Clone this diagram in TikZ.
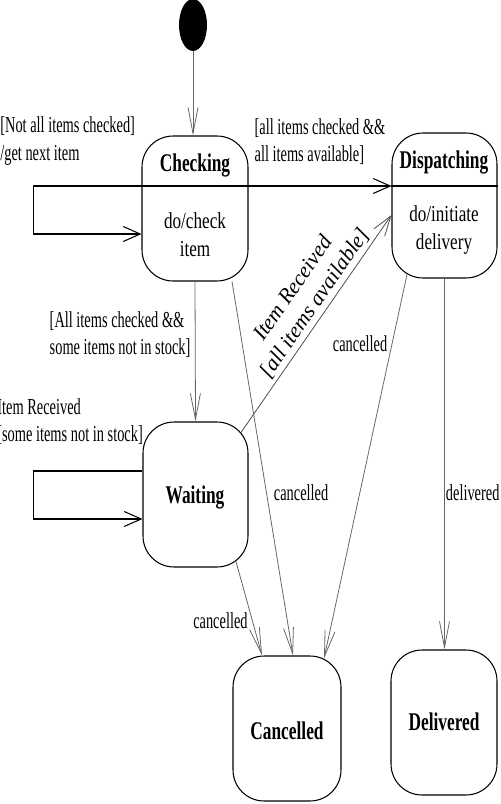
\documentclass[tikz,border=0pt]{standalone}
\usepackage{fontspec}
\setmainfont{Liberation Serif}
\newfontfamily\lblfont[FakeStretch=0.63]{Liberation Serif}
\newfontfamily\actfont[FakeStretch=0.75]{Liberation Serif}
\newfontfamily\namefont[FakeStretch=0.68]{Liberation Serif}
\usetikzlibrary{arrows.meta, positioning, calc, shapes.geometric}

\begin{document}
\begin{tikzpicture}[
  x=0.02cm, y=-0.02cm,
  every node/.style={font=\lblfont\fontsize{13}{15.5}\selectfont},
  state/.style={draw, rounded corners=0.62cm, minimum width=2.12cm,
                minimum height=2.9cm, line width=0.6pt},
  sname/.style={font=\namefont\fontsize{14.5}{16}\selectfont\bfseries},
  sact/.style={font=\actfont\fontsize{13}{16}\selectfont, align=center},
  guard/.style={align=left, inner sep=0pt},
  tr/.style={draw=black!60, line width=0.45pt,
             -{Straight Barb[length=0.52cm, width=0.2cm]}},
  trd/.style={draw=black!70, line width=0.45pt,
              -{Straight Barb[length=0.4cm, width=0.26cm]}},
  trh/.style={draw=black, line width=0.6pt,
              -{Straight Barb[length=0.34cm, width=0.3cm]}},
]
  \useasboundingbox (0,0) rectangle (500,804);

  % states
  \node[ellipse, fill=black, minimum width=0.56cm, minimum height=1.04cm,
        inner sep=0pt] (init) at (193,25) {};
  \node[state] (chk) at (195,208.5) {};
  \node[state, minimum width=2.1cm] (disp) at (444.5,205.5) {};
  \node[state, minimum width=2.1cm] (wait) at (195.5,494.5) {};
  \node[state, minimum width=2.16cm] (canc) at (287,728.5) {};
  \node[state] (deliv) at (444,722.5) {};
  \coordinate (div) at (0,186);

  \node[sname] (chkname) at (195,165) {Checking};
  \node[sact] (chkdo) at (195,235) {do/check\\item};
  \node[sname] (dispname) at (444,162) {Dispatching};
  \node[sact] (dispdo) at (444,230) {do/initiate\\delivery};
  \node[sname] (waitname) at (195,497) {Waiting};
  \node[sname] (cancname) at (287,731) {Cancelled};
  \node[sname] (delivname) at (444,722) {Delivered};

  % compartments
  \draw[line width=0.6pt] (chk.west |- div) -- (chk.east |- div);
  \draw[line width=0.6pt] (disp.west |- div) -- (disp.east |- div);

  % transitions
  \draw[tr] (init.south) -- (init |- chk.north);
  \draw[trh] (chk.west |- div) -- ++(-108,0) |- ($(chk.west)+(0,25.5)$);
  \node[guard, anchor=west] (chkloop) at (0,141)
    {[Not all items checked]\\/get next item};
  \draw[trh] (chk.east |- div) --
    node[midway, above=12pt, align=left, inner sep=0pt] (chkdisp)
    {[all items checked \&\&\\all items available]} (disp.west |- div);
  \draw[tr] (chk.south) --
    node[pos=0.38, left, align=left, inner sep=2.5pt] (chkwait)
    {[All items checked \&\&\\some items not in stock]} (wait.north);
  \draw[trh] ($(wait.west)+(0,-23.5)$) -- ++(-109,0) |- ($(wait.west)+(0,24.5)$);
  \node[guard, anchor=west] (waitloop) at (-3,421.5)
    {Item Received\\{}[some items not in stock]};
  \draw[trd] ($(wait.north)+(45.5,11)$) --
    node[pos=0.56, above, sloped, align=center, inner sep=2pt,
         font=\rmfamily\fontsize{12.3}{15}\selectfont\itshape] (waitdisp)
    {Item Received\\{}[all items available]} ($(disp.west)+(0,9.5)$);
  \draw[tr] ($(chk.south)+(37,0)$) --
    node[pos=0.565, right, inner sep=4pt] (chkcanc) {cancelled}
    ($(canc.north)+(6,0)$);
  \draw[tr] ($(wait.south)+(40.5,-6)$) --
    node[pos=0.63, left, inner sep=2.5pt] (waitcanc) {cancelled}
    ($(canc.north)+(-25,0)$);
  \draw[tr] ($(disp.south)+(-37.5,-4)$) --
    node[pos=0.18, left, inner sep=2.5pt] (dispcanc) {cancelled}
    ($(canc.north)+(37,3)$);
  \draw[tr] (disp.south) --
    node[pos=0.578, right, inner sep=0.6pt] (dispdeliv) {delivered}
    (disp.south |- deliv.north);
\end{tikzpicture}
\end{document}
